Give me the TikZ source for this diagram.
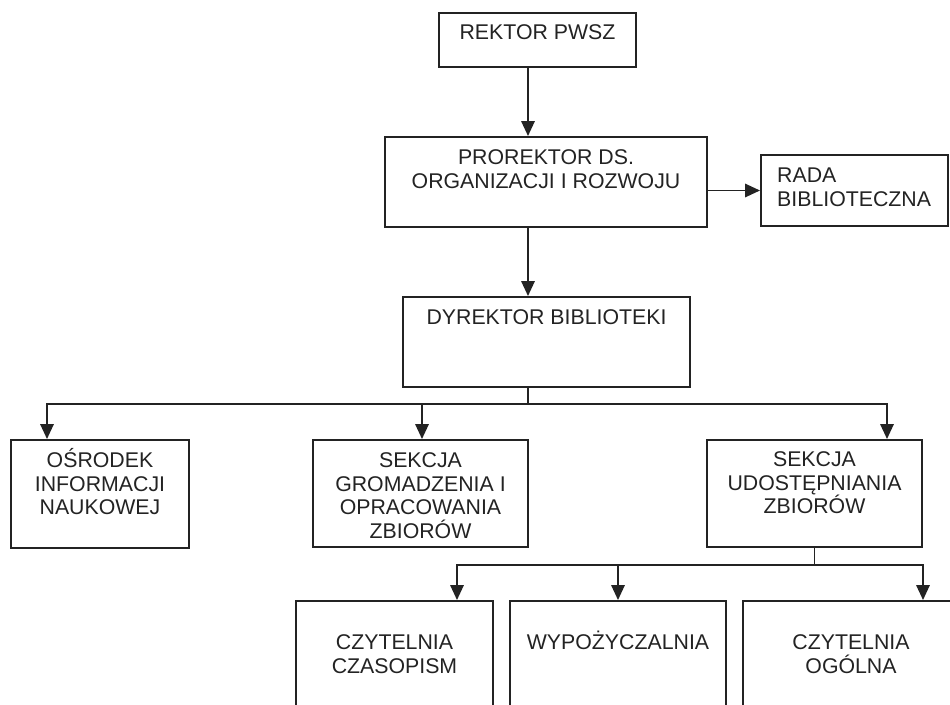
\documentclass[tikz,border=0pt]{standalone}
\usepackage{fontspec}
\setmainfont{Liberation Sans}
\usepackage{tikz}
\definecolor{ink}{HTML}{232323}
\tikzset{unit box/.style={rectangle,draw=ink,line width=2pt,inner sep=0pt},
  box text/.style={align=center,inner sep=0pt,text=ink,font=\fontsize{21.3}{23.5}\selectfont},
  link/.style={draw=ink,line width=1.7pt,-{Triangle[length=15pt,width=13.5pt]}},
}
\usetikzlibrary{positioning,arrows.meta}
\newcommand{\tst}{\rule{0pt}{20pt}}

\begin{document}
\begin{tikzpicture}[x=1pt,y=-1pt]
	\useasboundingbox (0,0) rectangle (950,704);
	\fill[white] (0,0) rectangle (950,704);
	\clip (0,0) rectangle (950,704);
	
	%% boxes
	\node[unit box,minimum width=197pt,minimum height=54pt] (rektor) at (537.5,40) {};
	\node[unit box,minimum width=322pt,minimum height=90pt] (prorektor) at (546,182) {};
	\node[unit box,minimum width=187pt,minimum height=71pt] (rada) at (854.5,190.5) {};
	\node[unit box,minimum width=287pt,minimum height=90pt] (dyr) at (546.5,342) {};
	\node[unit box,minimum width=178pt,minimum height=108pt] (osr) at (100,494) {};
	\node[unit box,minimum width=215pt,minimum height=107pt] (grom) at (420.5,493.5) {};
	\node[unit box,minimum width=215pt,minimum height=107pt] (udost) at (814.5,493.5) {};
	\node[unit box,minimum width=197pt,minimum height=129pt] (czas) at (394.5,665.5) {};
	\node[unit box,minimum width=216pt,minimum height=129pt] (wyp) at (618,665.5) {};
	\node[unit box,minimum width=216pt,minimum height=129pt] (ogol) at (851,665.5) {};
	
	%% texts
	\node[box text,below=7.5pt of rektor.north] (rektor-t) {\tst REKTOR PWSZ};
	\node[box text,below=8.5pt of prorektor.north] (prorektor-t) {\tst PROREKTOR DS.\\ORGANIZACJI I ROZWOJU};
	\node[box text,align=left,below right=8.5pt and 17pt of rada.north west] (rada-t) {\tst RADA\\BIBLIOTECZNA};
	\node[box text,below=8.5pt of dyr.north] (dyr-t) {\tst DYREKTOR BIBLIOTEKI};
	\node[box text,below=8.5pt of osr.north] (osr-t) {\tst OŚRODEK\\INFORMACJI\\NAUKOWEJ};
	\node[box text,below=8.5pt of grom.north] (grom-t) {\tst SEKCJA\\GROMADZENIA I\\OPRACOWANIA\\ZBIORÓW};
	\node[box text,below=7.5pt of udost.north] (udost-t) {\tst SEKCJA\\UDOSTĘPNIANIA\\ZBIORÓW};
	\node[box text,below=29.5pt of czas.north] (czas-t) {\tst CZYTELNIA\\CZASOPISM};
	\node[box text,below=29.5pt of wyp.north] (wyp-t) {\tst WYPOŻYCZALNIA};
	\node[box text,below=29.5pt of ogol.north] (ogol-t) {\tst CZYTELNIA\\OGÓLNA};
	
	%% connectors
	\coordinate (spine) at (528,0);
	\draw[link] (rektor.south -| spine) -- (prorektor.north -| spine);
	\draw[link] (prorektor.east |- rada.west) -- (rada.west);
	\draw[link] (prorektor.south -| spine) -- (dyr.north -| spine);
	\foreach \n/\x in {osr/47,grom/422,udost/887}{
		\coordinate (drop-\n) at (\x,404);
		\draw[link] (dyr.south -| spine) |- (drop-\n) -- (\n.north -| drop-\n);
	}
	\foreach \n/\x in {czas/457,wyp/618,ogol/923}{
		\coordinate (drop-\n) at (\x,565);
		\draw[link] (udost.south) |- (drop-\n) -- (\n.north -| drop-\n);
	}
\end{tikzpicture}
\end{document}
